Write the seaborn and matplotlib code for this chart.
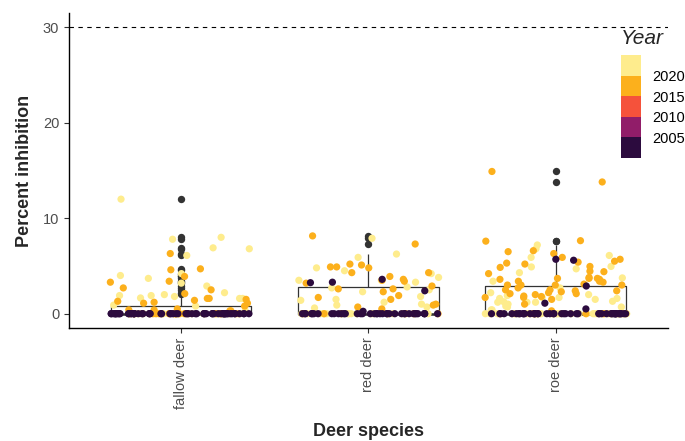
import numpy as np
import pandas as pd
import seaborn as sns
import matplotlib as mpl
import matplotlib.pyplot as plt
from matplotlib.colors import ListedColormap, BoundaryNorm

species = ["fallow deer", "red deer", "roe deer"]
years = [2021, 2018, 2004]  # draw order: dark points end up on top

# non-zero inhibition values per sampling year
fallow = {
    2021: [12.0, 8.0, 7.8, 6.9, 6.8, 6.1, 4.2, 4.0, 3.7, 3.2, 2.9, 2.2, 2.0, 1.9,
           1.9, 1.6, 1.65, 1.8, 1.6, 0.9, 0.8, 0.3],
    2018: [6.3, 4.6, 4.7, 3.9, 3.4, 3.3, 2.7, 2.5, 2.1, 1.6, 1.5, 1.6, 1.3, 1.2,
           1.4, 1.1, 1.1, 0.8, 0.3, 0.5, 0.3, 0.4, 0.4],
    2004: [],
}
red = {
    2021: [7.9, 6.25, 5.9, 4.8, 4.5, 3.5, 4.2, 3.8, 2.7, 3.5, 3.3, 2.5, 2.3, 2.8,
           1.8, 1.2, 1.0, 1.4, 1.5, 0.9, 0.6, 0.7],
    2018: [7.3, 8.15, 5.2, 4.9, 5.1, 4.9, 4.8, 4.3, 4.3, 3.9, 3.5, 3.4, 3.2, 3.6,
           2.9, 2.3, 2.6, 2.6, 1.9, 1.5, 1.7, 1.0, 0.9, 0.7, 0.5],
    2004: [3.3, 3.6, 3.25, 2.4, 0.25],
}
roe = {
    2021: [7.2, 6.8, 6.1, 5.9, 4.95, 4.7, 4.9, 3.4, 4.3, 3.75, 1.7, 1.9, 1.2, 1.3,
           1.0, 1.5, 1.25, 0.7, 2.7, 2.2, 1.6, 1.2, 2.0, 1.7, 1.2, 1.6, 0.8, 0.7,
           0.4, 0.4],
    2018: [14.9, 13.8, 7.6, 7.65, 6.5, 6.6, 5.7, 6.3, 5.4, 4.95, 4.85, 4.4, 5.5,
           5.3, 5.9, 5.2, 4.45, 4.2, 3.7, 3.7, 3.8, 3.6, 3.3, 3.4, 3.4, 3.0, 3.0,
           3.7, 3.6, 3.1, 3.0, 3.0, 2.7, 2.5, 2.3, 1.8, 2.0, 2.5, 1.7, 1.7, 1.5,
           1.85, 2.2, 2.4, 2.1, 2.4, 2.1, 1.0, 0.3],
    2004: [5.6, 5.7, 2.9, 1.1, 0.5],
}

# number of samples at exactly 0 % inhibition
fallow_zeros = {2021: 28, 2018: 16, 2004: 62}
red_zeros = {2021: 16, 2018: 7, 2004: 38}
roe_zeros = {2021: 40, 2018: 6, 2004: 45}

# binned year scale
year_breaks = [2000, 2005, 2010, 2015, 2020, 2025]
year_ticks = [2005, 2010, 2015, 2020]
year_colours = ["#2c0b3e", "#911d69", "#f5523b", "#fcb01c", "#feec8d"]

rows = []
for sp, vals, zeros in zip(species, [fallow, red, roe], [fallow_zeros, red_zeros, roe_zeros]):
    for yr in years:
        for v in vals[yr] + [0.0] * zeros[yr]:
            rows.append((sp, yr, v))
df = pd.DataFrame(rows, columns=["species", "year", "inhibition"])

cmap = ListedColormap(year_colours)
norm = BoundaryNorm(year_breaks, cmap.N)
pal = {yr: cmap(norm(yr)) for yr in years}

sns.set_style("ticks")
plt.rcParams["font.family"] = ["Liberation Sans", "DejaVu Sans"]

fig = plt.figure(figsize=(6.85, 4.41), dpi=100)
ax = fig.add_axes([0.1007, 0.2562, 0.8745, 0.7143])

sns.boxplot(data=df, x="species", y="inhibition", order=species, width=0.75,
            fill=False, color="#333333", linecolor="#333333", linewidth=0.9,
            showcaps=False, medianprops=dict(linewidth=1.8),
            flierprops=dict(marker="o", markersize=5.3, markeredgewidth=0,
                            markerfacecolor="#333333"),
            ax=ax)
np.random.seed(7)
sns.stripplot(data=df, x="species", y="inhibition", order=species, hue="year",
              hue_order=years, palette=pal, jitter=0.38, size=5.2, linewidth=0,
              legend=False, ax=ax)
ax.axhline(30, ls=(0, (4, 4)), color="black", lw=0.8)

ax.set_xlim(-0.6, 2.6)
ax.set_ylim(-1.5, 31.5)
ax.set_yticks([0, 10, 20, 30])
sns.despine(ax=ax)
for s in ["left", "bottom"]:
    ax.spines[s].set_color("black")
    ax.spines[s].set_linewidth(1)
ax.tick_params(length=3.5, width=0.8, color="#333333", labelcolor="#4d4d4d", labelsize=10.5)
ax.tick_params(axis="x", rotation=90)
ax.set_xlabel("Deer species", fontsize=13, fontweight="bold", labelpad=10)
ax.set_ylabel("Percent inhibition", fontsize=13, fontweight="bold", labelpad=7)

# legend as a binned colour bar
cax = fig.add_axes([0.9066, 0.6417, 0.0292, 0.2336])
cb = fig.colorbar(mpl.cm.ScalarMappable(norm=norm, cmap=cmap), cax=cax, ticks=year_ticks)
cb.outline.set_visible(False)
cax.minorticks_off()
cax.tick_params(which="both", length=0, labelsize=10.5, pad=8, labelcolor="black")
fig.text(0.907, 1 - 38 / 441, "Year", fontsize=15, fontstyle="italic", va="center", ha="left")

fig.savefig("out.png", dpi=100)
